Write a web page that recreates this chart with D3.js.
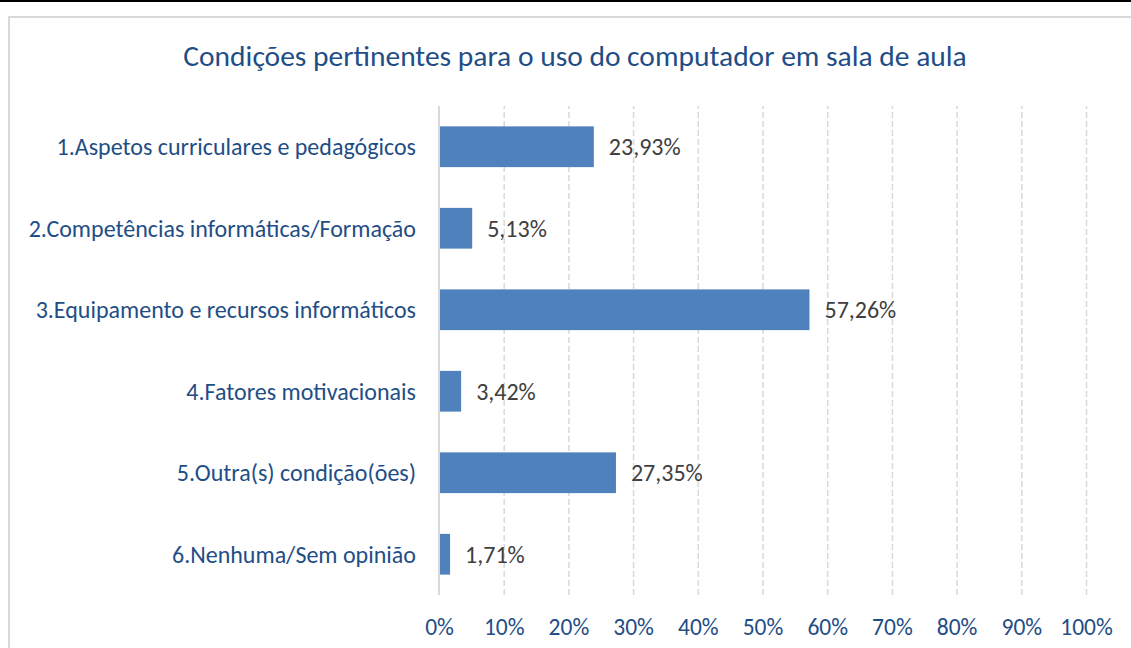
<!DOCTYPE html>
<html>
<head>
<meta charset="utf-8">
<script src="https://cdn.jsdelivr.net/npm/d3@7"></script>
<style>
  body { margin: 0; background: #fff; }
  svg { display: block; font-family: Calibri, Carlito, Lato, sans-serif; }
</style>
</head>
<body>
<script>
// data
var categories = [
  '1.Aspetos curriculares e pedagógicos',
  '2.Competências informáticas/Formação',
  '3.Equipamento e recursos informáticos',
  '4.Fatores motivacionais',
  '5.Outra(s) condição(ões)',
  '6.Nenhuma/Sem opinião'
];
var values = [23.93, 5.13, 57.26, 3.42, 27.35, 1.71];
var valueLabels = ['23,93%', '5,13%', '57,26%', '3,42%', '27,35%', '1,71%'];
var tickValues = [0, 10, 20, 30, 40, 50, 60, 70, 80, 90, 100];
var title = 'Condições pertinentes para o uso do computador em sala de aula';

var W = 1131, H = 648;
var margin = {top: 106, right: 45, bottom: 53, left: 439};

var blueText = '#1f4e86';
var barColor = '#4f81bd';
var gridColor = '#d9d9d9';

var svg = d3.select('body').append('svg')
            .attr('width', W)
            .attr('height', H);

// top black rule + chart frame
svg.append('line')
   .attr('x1', 0).attr('x2', W)
   .attr('y1', 1).attr('y2', 1)
   .attr('stroke', '#000').attr('stroke-width', 2);
svg.append('path')
   .attr('d', 'M9,' + H + 'V17H' + W)
   .attr('fill', 'none')
   .attr('stroke', gridColor)
   .attr('stroke-width', 2);

var xScale = d3.scaleLinear().domain([0, 100]).range([margin.left, W - margin.right]);
var yScale = d3.scaleBand().domain(categories)
               .range([margin.top, H - margin.bottom])
               .paddingInner(0.5).paddingOuter(0.25);

// dashed gridlines
var grid = svg.append('g')
   .attr('class', 'grid')
   .attr('transform', 'translate(0,' + (H - margin.bottom) + ')')
   .call(d3.axisBottom(xScale).tickValues(tickValues.slice(1))
           .tickSize(-(H - margin.top - margin.bottom)).tickFormat(''));
grid.select('.domain').remove();
grid.selectAll('line')
    .attr('stroke', gridColor)
    .attr('stroke-width', 1.5)
    .attr('stroke-dasharray', '6,3');

// vertical category axis line
svg.append('line')
   .attr('x1', xScale(0)).attr('x2', xScale(0))
   .attr('y1', margin.top).attr('y2', H - margin.bottom)
   .attr('stroke', gridColor)
   .attr('stroke-width', 2);

// x tick labels
var xAxis = svg.append('g')
   .attr('transform', 'translate(0,' + (H - margin.bottom) + ')')
   .call(d3.axisBottom(xScale).tickValues(tickValues).tickSize(0).tickPadding(23)
           .tickFormat(function(d) { return d + '%'; }));
xAxis.select('.domain').remove();
xAxis.selectAll('text')
     .attr('fill', blueText)
     .style('font-size', '23.5px')
     .style('font-family', 'Calibri, Carlito, Lato, sans-serif');

// category labels
var yAxis = svg.append('g')
   .attr('transform', 'translate(' + xScale(0) + ',0)')
   .call(d3.axisLeft(yScale).tickSize(0).tickPadding(23));
yAxis.select('.domain').remove();
yAxis.selectAll('text')
     .attr('fill', blueText)
     .attr('dy', '0.35em')
     .style('font-size', '24px')
     .style('font-family', 'Calibri, Carlito, Lato, sans-serif');

// bars
svg.selectAll('.bar')
   .data(values)
   .enter()
   .append('rect')
   .attr('class', 'bar')
   .attr('fill', barColor)
   .attr('x', xScale(0) + 1)
   .attr('y', function(d, i) { return yScale(categories[i]); })
   .attr('width', function(d) { return xScale(d) - xScale(0) - 1; })
   .attr('height', yScale.bandwidth());

// value labels
svg.selectAll('.val')
   .data(values)
   .enter()
   .append('text')
   .attr('class', 'val')
   .attr('x', function(d) { return xScale(d) + 15; })
   .attr('y', function(d, i) { return yScale(categories[i]) + yScale.bandwidth() / 2; })
   .attr('dy', '0.35em')
   .attr('fill', '#404040')
   .style('font-size', '24px')
   .text(function(d, i) { return valueLabels[i]; });

// title
svg.append('text')
   .attr('x', 575)
   .attr('y', 66)
   .attr('text-anchor', 'middle')
   .attr('fill', blueText)
   .style('font-size', '29.5px')
   .text(title);
</script>
</body>
</html>
